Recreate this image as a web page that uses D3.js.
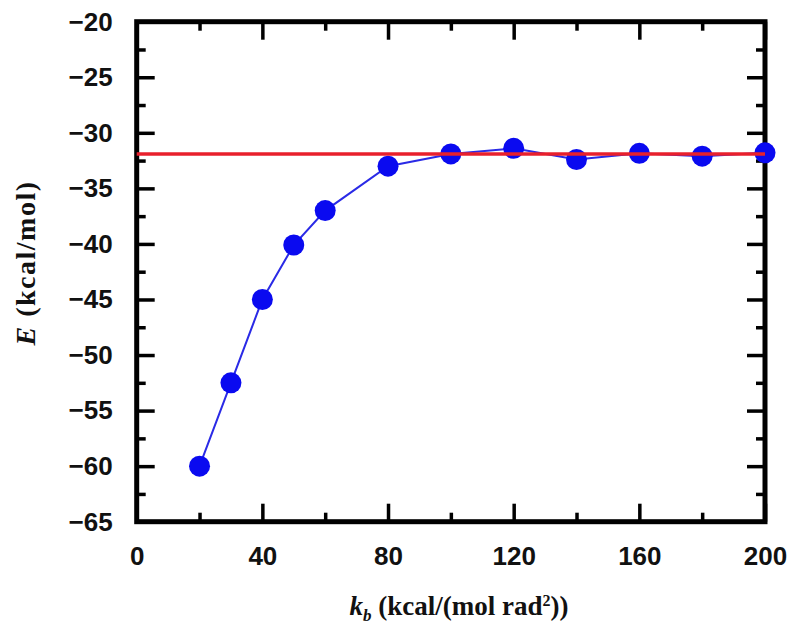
<!DOCTYPE html>
<html>
<head>
<meta charset="utf-8">
<script src="https://cdn.jsdelivr.net/npm/d3@7"></script>
<style>
  body { margin: 0; background: #fff; }
  .tick text { font-family: "Liberation Sans", Arial, sans-serif; font-weight: bold; font-size: 26px; fill: #111; }
  .ttl { font-family: "Liberation Serif", "Times New Roman", serif; font-weight: bold; font-size: 27px; fill: #111; }
</style>
</head>
<body>
<div class="svg-container"></div>
<script>
// data
var kb = [20, 30, 40, 50, 60, 80, 100, 120, 140, 160, 180, 200];
var energy = [-60, -52.5, -45, -40.1, -37, -33, -31.9, -31.4, -32.4, -31.85, -32.1, -31.8];
var refEnergy = -31.9;
var xTicks = [0, 40, 80, 120, 160, 200];
var xMinor = [20, 60, 100, 140, 180];
var yTicks = [-20, -25, -30, -35, -40, -45, -50, -55, -60, -65];
var yMinor = [-22.5, -27.5, -32.5, -37.5, -42.5, -47.5, -52.5, -57.5, -62.5];

var width = 800, height = 634;
var plotL = 136.7, plotT = 21.7, plotR = 765, plotB = 521.7;

var svg = d3.select(".svg-container").append("svg")
    .attr("width", width)
    .attr("height", height);

var x = d3.scaleLinear().domain([0, 200]).range([plotL, plotR]);
var y = d3.scaleLinear().domain([-65, -20]).range([plotB, plotT]);

function fmt(d) { return d < 0 ? "\u2212" + Math.abs(d) : "" + d; }

function styleTicks(g) {
    g.select(".domain").remove();
    g.selectAll(".tick line").attr("stroke", "#000").attr("stroke-width", 3.5);
}

// bottom axis
svg.append("g").attr("transform", "translate(0," + plotB + ")")
    .call(d3.axisBottom(x).tickValues(xTicks).tickSize(-18).tickPadding(25).tickFormat(fmt))
    .call(styleTicks);
svg.append("g").attr("transform", "translate(0," + plotB + ")")
    .call(d3.axisBottom(x).tickValues(xMinor).tickSize(-9).tickFormat(""))
    .call(styleTicks);
// top axis
svg.append("g").attr("transform", "translate(0," + plotT + ")")
    .call(d3.axisTop(x).tickValues(xTicks).tickSize(-18).tickFormat(""))
    .call(styleTicks);
svg.append("g").attr("transform", "translate(0," + plotT + ")")
    .call(d3.axisTop(x).tickValues(xMinor).tickSize(-9).tickFormat(""))
    .call(styleTicks);
// left axis
svg.append("g").attr("transform", "translate(" + plotL + ",0)")
    .call(d3.axisLeft(y).tickValues(yTicks).tickSize(-18).tickPadding(24).tickFormat(fmt))
    .call(styleTicks);
svg.append("g").attr("transform", "translate(" + plotL + ",0)")
    .call(d3.axisLeft(y).tickValues(yMinor).tickSize(-9).tickFormat(""))
    .call(styleTicks);
// right axis
svg.append("g").attr("transform", "translate(" + plotR + ",0)")
    .call(d3.axisRight(y).tickValues(yTicks).tickSize(-18).tickFormat(""))
    .call(styleTicks);
svg.append("g").attr("transform", "translate(" + plotR + ",0)")
    .call(d3.axisRight(y).tickValues(yMinor).tickSize(-9).tickFormat(""))
    .call(styleTicks);

// frame
svg.append("rect")
    .attr("x", plotL).attr("y", plotT)
    .attr("width", plotR - plotL).attr("height", plotB - plotT)
    .attr("fill", "none").attr("stroke", "#000").attr("stroke-width", 5);

// blue line + dots
var line = d3.line()
    .x(function(d, i) { return x(kb[i]); })
    .y(function(d) { return y(d); });

svg.append("path")
    .datum(energy)
    .attr("d", line)
    .attr("fill", "none")
    .attr("stroke", "#2a2ae6")
    .attr("stroke-width", 2);

svg.selectAll(".dot")
    .data(energy)
    .enter().append("circle")
    .attr("class", "dot")
    .attr("cx", function(d, i) { return x(kb[i]); })
    .attr("cy", function(d) { return y(d); })
    .attr("r", 10.5)
    .attr("fill", "#0a0af0");

// red reference line
svg.append("line")
    .attr("x1", x(0)).attr("x2", x(200))
    .attr("y1", y(refEnergy)).attr("y2", y(refEnergy))
    .attr("stroke", "#e8202c")
    .attr("stroke-width", 3.5);

// axis titles
var xt = svg.append("text").attr("class", "ttl")
    .attr("x", 459).attr("y", 615)
    .style("text-anchor", "middle");
xt.append("tspan").style("font-style", "italic").text("k");
xt.append("tspan").style("font-style", "italic").style("font-size", "17px").attr("dy", 6).text("b");
xt.append("tspan").attr("dy", -6).text(" (kcal/(mol rad");
xt.append("tspan").style("font-size", "16px").attr("dy", -9).text("2");
xt.append("tspan").attr("dy", 9).text("))");

var yt = svg.append("text").attr("class", "ttl")
    .attr("transform", "translate(35,263) rotate(-90)")
    .style("text-anchor", "middle")
    .style("font-size", "28px")
    .style("letter-spacing", "1.5px");
yt.append("tspan").style("font-style", "italic").text("E");
yt.append("tspan").text(" (kcal/mol)");
</script>
</body>
</html>
